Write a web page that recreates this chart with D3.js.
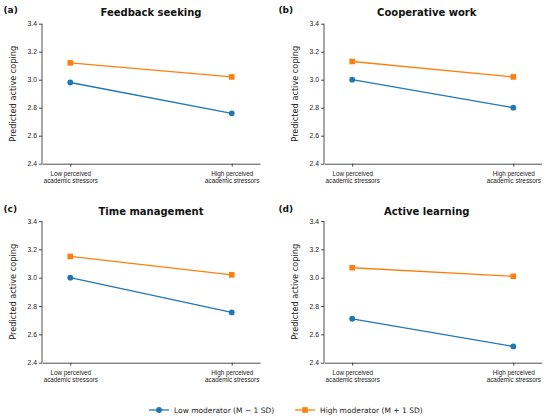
<!DOCTYPE html>
<html>
<head>
<meta charset="utf-8">
<script src="https://cdn.jsdelivr.net/npm/d3@7"></script>
<style>
  body { margin: 0; background: #fff; }
  svg { font-family: "DejaVu Sans", sans-serif; }
  .tick text { fill: #222; }
</style>
</head>
<body>
<svg id="chart" width="550" height="418"></svg>
<script>
// values
var panelTags = ["(a)", "(b)", "(c)", "(d)"];
var panelTitles = ["Feedback seeking", "Cooperative work", "Time management", "Active learning"];
var conditions = ["Low perceived|academic stressors", "High perceived|academic stressors"];
var lowModerator = [[2.98, 2.76], [3.00, 2.80], [3.00, 2.755], [2.71, 2.515]];
var highModerator = [[3.12, 3.02], [3.13, 3.02], [3.15, 3.02], [3.07, 3.01]];
var seriesNames = ["Low moderator (M \u2212 1 SD)", "High moderator (M + 1 SD)"];
var yTicks = [2.4, 2.6, 2.8, 3.0, 3.2, 3.4];

var blue = "#1f77b4", orange = "#ff7f0e";

// panel frames (left/right of axes per column, top/bottom per row)
var colX = [[42, 260], [324, 541.5]];
var rowY = [[23.7, 163.7], [221, 362.7]];
var colOrigin = [0, 275], rowOrigin = [0, 199];
var titleShift = [0, -6];

var svg = d3.select("#chart");

panelTitles.forEach(function(title, i) {
	var c = i % 2, r = Math.floor(i / 2);
	var x0 = colX[c][0], x1 = colX[c][1];
	var y0 = rowY[r][0], y1 = rowY[r][1];

	var x = d3.scalePoint().domain(conditions).range([x0, x1]).padding(0.175);
	var y = d3.scaleLinear().domain([2.4, 3.4]).range([y1, y0]);

	var g = svg.append("g");

	// y axis
	var ya = g.append("g")
		.attr("transform", "translate(" + x0 + ",0)")
		.call(d3.axisLeft(y).tickValues(yTicks).tickSize(3).tickPadding(2).tickFormat(d3.format(".1f")));
	ya.selectAll("text").style("font-size", "6.8px");

	// x axis
	var xa = g.append("g")
		.attr("transform", "translate(0," + y1 + ")")
		.call(d3.axisBottom(x).tickSize(3).tickSizeOuter(0).tickFormat(""));
	xa.selectAll(".tick").each(function(d) {
		var t = d3.select(this).append("text")
			.attr("text-anchor", "middle")
			.style("font-size", "6.3px")
			.attr("fill", "#222");
		d.split("|").forEach(function(line, k) {
			t.append("tspan").attr("x", 0).attr("y", 12.3 + k * 7.5).text(line);
		});
	});
	g.selectAll(".domain, .tick line").attr("stroke", "#222").attr("stroke-width", 0.8);
	ya.select(".domain").attr("d", "M0," + y1 + "V" + y0);

	// y label
	g.append("text")
		.attr("transform", "translate(" + (x0 - 26) + "," + ((y0 + y1) / 2) + ") rotate(-90)")
		.attr("text-anchor", "middle")
		.style("font-size", "8.2px")
		.attr("fill", "#222")
		.text("Predicted active coping");

	// title and tag
	g.append("text")
		.attr("x", (x0 + x1) / 2 + titleShift[c])
		.attr("y", rowOrigin[r] + 16)
		.attr("text-anchor", "middle")
		.style("font-size", "10px")
		.style("font-weight", "bold")
		.attr("fill", "#111")
		.text(title);
	g.append("text")
		.attr("x", colOrigin[c] + 3.5)
		.attr("y", rowOrigin[r] + 13)
		.style("font-size", "9px")
		.style("font-weight", "bold")
		.attr("fill", "#111")
		.text(panelTags[i]);

	var line = d3.line()
		.x(function(d, k) { return x(conditions[k]); })
		.y(function(d) { return y(d); });

	// high moderator
	g.append("path").datum(highModerator[i])
		.attr("d", line).attr("fill", "none")
		.attr("stroke", orange).attr("stroke-width", 1.3);
	g.selectAll(".sq").data(highModerator[i]).enter().append("rect")
		.attr("x", function(d, k) { return x(conditions[k]) - 2.8; })
		.attr("y", function(d) { return y(d) - 2.8; })
		.attr("width", 5.6).attr("height", 5.6)
		.attr("fill", orange);

	// low moderator
	g.append("path").datum(lowModerator[i])
		.attr("d", line).attr("fill", "none")
		.attr("stroke", blue).attr("stroke-width", 1.3);
	g.selectAll(".dot").data(lowModerator[i]).enter().append("circle")
		.attr("cx", function(d, k) { return x(conditions[k]); })
		.attr("cy", function(d) { return y(d); })
		.attr("r", 2.9)
		.attr("fill", blue);
});

// legend
var legendX = [149, 295], legendY = 410;
seriesNames.forEach(function(name, i) {
	var lx = legendX[i];
	var col = i == 0 ? blue : orange;
	var lg = svg.append("g");
	lg.append("line")
		.attr("x1", lx).attr("x2", lx + 20)
		.attr("y1", legendY).attr("y2", legendY)
		.attr("stroke", col).attr("stroke-width", 1.3);
	if (i == 0) {
		lg.append("circle").attr("cx", lx + 10).attr("cy", legendY).attr("r", 2.9).attr("fill", col);
	} else {
		lg.append("rect").attr("x", lx + 7.2).attr("y", legendY - 2.8)
			.attr("width", 5.6).attr("height", 5.6).attr("fill", col);
	}
	lg.append("text")
		.attr("x", lx + 25).attr("y", legendY + 2.7)
		.style("font-size", "7.5px")
		.attr("fill", "#222")
		.text(name);
});
</script>
</body>
</html>
